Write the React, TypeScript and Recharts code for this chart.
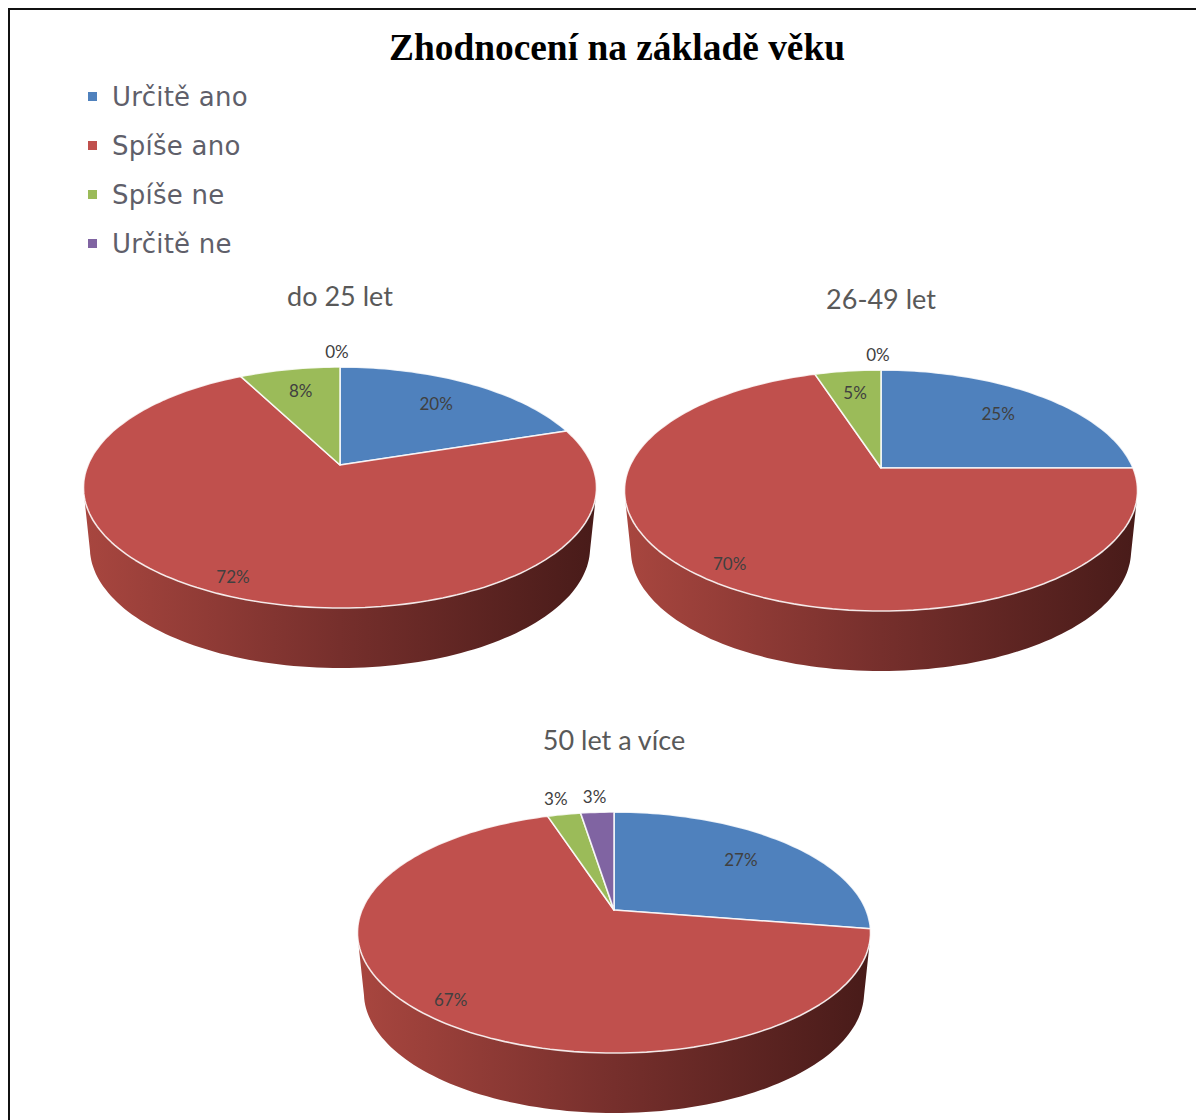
import { Legend, Pie, PieChart } from "recharts";

const categories = ["Určitě ano", "Spíše ano", "Spíše ne", "Určitě ne"];
const colors = ["#4f81bd", "#c0504d", "#9bbb59", "#8064a2"];
// the printed labels are these values rounded
const under25 = [20, 72.4, 7.6, 0];
const from26to49 = [25, 70, 5, 0];
const over50 = [27.49, 67.49, 2.51, 2.51];

const toRows = (values: number[]) =>
  values.map((value, i) => ({ name: categories[i], value, fill: colors[i] }));

// the flat pie is tilted with a small perspective, the same numbers work for all three
const TILT = 0.4615;
const PERSPECTIVE = 0.187;
const DEPTH = 60;
const BOTTOM_SCALE = 0.975;

function project(cx: number, cy: number, r: number, deg: number, frac = 1) {
  // deg = recharts angle (counter-clockwise from 3 o'clock)
  const rad = (deg * Math.PI) / 180;
  const u = Math.cos(rad) * frac;
  const v = Math.sin(rad) * frac;
  const w = 1 + PERSPECTIVE * v;
  return { x: cx + (r * u) / w, y: cy - (r * TILT * v) / w, v };
}

function arcPoints(p: any) {
  const steps = Math.max(2, Math.ceil(Math.abs(p.endAngle - p.startAngle) / 1.5));
  const pts = [];
  for (let i = 0; i <= steps; i++) {
    const a = p.startAngle + ((p.endAngle - p.startAngle) * i) / steps;
    pts.push(project(p.cx, p.cy, p.outerRadius, a));
  }
  return pts;
}

function TopSlice(p: any) {
  if (p.endAngle === p.startAngle) return <g />;
  const pts = arcPoints(p);
  const d =
    `M${p.cx},${p.cy} ` + pts.map((q) => `L${q.x.toFixed(1)},${q.y.toFixed(1)}`).join(" ") + " Z";
  return <path d={d} fill={p.fill} stroke="#fff" strokeOpacity={0.85} strokeWidth={1.6} strokeLinejoin="round" />;
}

function WallSlice(p: any) {
  // only the part of the rim facing the viewer gets a wall
  const pts = arcPoints(p).filter((q) => q.v <= -PERSPECTIVE);
  if (pts.length < 2) return <g />;
  const top = pts.map((q) => `${q.x.toFixed(1)},${q.y.toFixed(1)}`);
  const bottom = pts
    .slice()
    .reverse()
    .map((q) => `${(p.cx + (q.x - p.cx) * BOTTOM_SCALE).toFixed(1)},${(q.y + DEPTH).toFixed(1)}`);
  return <polygon points={[...top, ...bottom].join(" ")} fill="url(#wallShade)" />;
}

const makeLabel = (bigShift: number) =>
  function PercentLabel(p: any) {
    const pct = p.value;
    const frac = pct < 5 ? 1.2 : pct > 50 ? 0.87 : pct >= 15 ? 0.72 : 0.75;
    const q = project(p.cx, p.cy, p.outerRadius, p.midAngle, frac);
    const dx = pct > 50 ? bigShift : pct === 0 ? -3 : 0;
    const dy = pct > 50 ? 1.5 : 0;
    return (
      <text
        x={q.x + dx}
        y={q.y + dy}
        textAnchor="middle"
        dominantBaseline="central"
        fontFamily="Lato"
        fontSize={17}
        fill="#404040"
      >
        {Math.round(pct)}%
      </text>
    );
  };

function LegendBox() {
  return (
    <div style={{ fontFamily: "DejaVu Sans", fontSize: 26, letterSpacing: 0.25, color: "#5f5f6a" }}>
      {categories.map((name, i) => (
        <div key={name} style={{ display: "flex", alignItems: "center", height: 49 }}>
          <span style={{ width: 9, height: 9, background: colors[i], marginRight: 15 }} />
          {name}
        </div>
      ))}
    </div>
  );
}

const pies = [
  { key: "a", title: "do 25 let", values: under25, cx: 340, cy: 465, titleY: 306, bigShift: -9 },
  { key: "b", title: "26-49 let", values: from26to49, cx: 881, cy: 468, titleY: 309, bigShift: -3 },
  { key: "c", title: "50 let a více", values: over50, cx: 614, cy: 910, titleY: 750, bigShift: -1 },
];

export default function App() {
  return (
    <div style={{ position: "absolute", left: 0, top: 0, width: 1196, height: 1120, overflow: "hidden", background: "#fff" }}>
      <div
        style={{
          position: "absolute",
          left: 8,
          top: 8,
          width: 1300,
          height: 1300,
          borderLeft: "2px solid #111",
          borderTop: "2px solid #111",
        }}
      />
      <PieChart width={1196} height={1120} margin={{ top: 0, right: 0, bottom: 0, left: 0 }}>
        <defs>
          <linearGradient id="wallShade" x1="0" y1="0" x2="1" y2="0">
            <stop offset="0" stopColor="#a8463f" />
            <stop offset="0.5" stopColor="#762f2c" />
            <stop offset="1" stopColor="#481b19" />
          </linearGradient>
        </defs>
        <text x={617} y={60} textAnchor="middle" fontFamily="Liberation Serif" fontWeight="bold" fontSize={37.4} fill="#000">
          Zhodnocení na základě věku
        </text>
        {pies.map((p) => (
          <text key={p.key} x={p.cx} y={p.titleY} textAnchor="middle" fontFamily="Lato" fontSize={27} fill="#595959">
            {p.title}
          </text>
        ))}
        {pies.map((p) => (
          <Pie
            key={p.key + "-wall"}
            data={toRows(p.values)}
            dataKey="value"
            nameKey="name"
            cx={p.cx}
            cy={p.cy}
            outerRadius={252}
            startAngle={90}
            endAngle={-270}
            stroke="none"
            legendType="none"
            isAnimationActive={false}
            shape={WallSlice}
            activeShape={WallSlice}
            inactiveShape={WallSlice}
          />
        ))}
        {pies.map((p) => (
          <Pie
            key={p.key + "-top"}
            data={toRows(p.values)}
            dataKey="value"
            nameKey="name"
            cx={p.cx}
            cy={p.cy}
            outerRadius={252}
            startAngle={90}
            endAngle={-270}
            isAnimationActive={false}
            labelLine={false}
            label={makeLabel(p.bigShift)}
            shape={TopSlice}
            activeShape={TopSlice}
            inactiveShape={TopSlice}
          />
        ))}
        {/* horizontal + middle keeps the legend from eating into the plot offset */}
        <Legend
          layout="horizontal"
          align="center"
          verticalAlign="middle"
          wrapperStyle={{ left: 88, top: 72, width: 300 }}
          content={LegendBox}
        />
      </PieChart>
    </div>
  );
}
